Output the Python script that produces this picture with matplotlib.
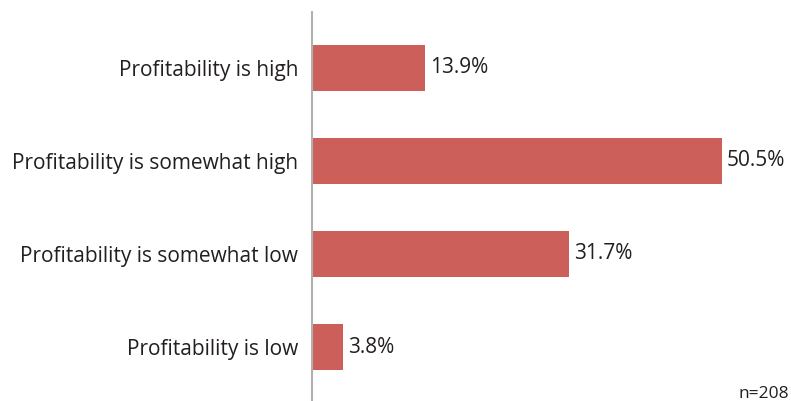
import matplotlib.pyplot as plt
from matplotlib.transforms import offset_copy

categories = [
    'Profitability is high',
    'Profitability is somewhat high',
    'Profitability is somewhat low',
    'Profitability is low',
]
shares = [13.9, 50.5, 31.7, 3.8]
sample_note = 'n=208'

plt.rcParams['font.family'] = ['Open Sans', 'DejaVu Sans']

W, H = 791, 401
fig = plt.figure(figsize=(W / 100, H / 100), dpi=100)
ax = fig.add_axes([312 / W, 0, 1 - 312 / W, 1 - 12 / H])

bar_color = '#CD5F5A'
text_color = '#231F20'
ypos = list(range(len(categories)))

ax.barh(ypos, shares, height=0.5, color=bar_color, zorder=2)
label_tr = offset_copy(ax.transData, fig=fig, x=5, y=0, units='dots')
for y, v in zip(ypos, shares):
    ax.text(v, y, f'{v}%', va='center', ha='left', transform=label_tr,
            fontsize=15, color=text_color)

ax.set_xlim(0, (W - 312) / 8.12)
ax.set_ylim(3.58, -0.60)
ax.set_yticks(ypos)
ax.set_yticklabels(categories, fontsize=15, color=text_color)
ax.tick_params(axis='y', length=0, pad=10)
ax.set_xticks([])

for side in ['top', 'right', 'bottom']:
    ax.spines[side].set_visible(False)
ax.spines['left'].set_color('#B0B0B0')
ax.spines['left'].set_linewidth(1.5)

fig.text(789 / W, 1 - 394 / H, sample_note, ha='right', va='center',
         fontsize=12.5, color=text_color)

fig.savefig('out.png', dpi=100, facecolor='white')
